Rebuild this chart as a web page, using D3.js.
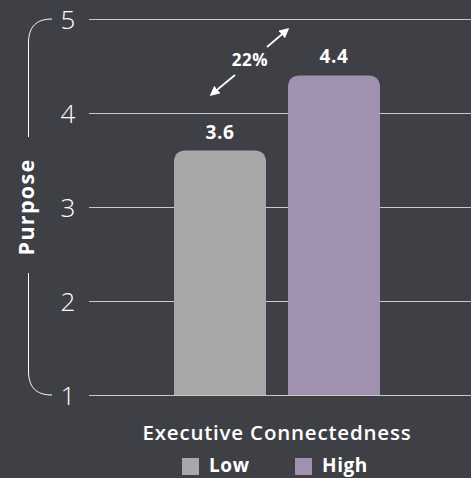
<!DOCTYPE html>
<html>
<head>
<meta charset="utf-8">
<script src="https://cdn.jsdelivr.net/npm/d3@7"></script>
<style>
  html, body { margin: 0; padding: 0; background: #3f4045; }
  svg { display: block; }
  text { font-family: "Open Sans", "Noto Sans", sans-serif; fill: #ffffff; }
</style>
</head>
<body>
<svg id="chart" width="471" height="478"></svg>
<script>
// Purpose score by level of executive connectedness
const categories = ["Low", "High"];
const values = [3.6, 4.4];
const valueLabels = ["3.6", "4.4"];
const colors = ["#a8a8a8", "#a091ae"];
const yTicks = [1, 2, 3, 4, 5];
const changeLabel = "22%";
const yTitle = "Purpose";
const xTitle = "Executive Connectedness";

const svg = d3.select("#chart");
const W = 471, H = 478;
svg.append("rect").attr("width", W).attr("height", H).attr("fill", "#3f4045");

const y = d3.scaleLinear().domain([1, 5]).range([395, 19]);
const x = d3.scaleBand().domain(categories).range([174, 380])
  .paddingInner(22 / 114).paddingOuter(0);

// Gridlines + tick labels
const grid = svg.append("g");
grid.selectAll("line").data(yTicks).join("line")
  .attr("x1", 89).attr("x2", W)
  .attr("y1", d => Math.round(y(d)) + 0.5).attr("y2", d => Math.round(y(d)) + 0.5)
  .attr("stroke", "#c9c9cb").attr("stroke-width", 1);
grid.selectAll("text").data(yTicks).join("text")
  .attr("x", 68).attr("y", d => y(d) + 10)
  .attr("text-anchor", "middle")
  .style("font-size", "26px").style("font-weight", 300)
  .text(d => d);

// Bars with rounded top corners
const r = 12;
function barPath(x0, w, yTop, yBot) {
  return `M${x0},${yBot}V${yTop + r}Q${x0},${yTop} ${x0 + r},${yTop}` +
         `H${x0 + w - r}Q${x0 + w},${yTop} ${x0 + w},${yTop + r}V${yBot}Z`;
}
svg.append("g").selectAll("path").data(categories).join("path")
  .attr("d", (c, i) => barPath(x(c), x.bandwidth(), y(values[i]), y(1)))
  .attr("fill", (c, i) => colors[i]);

// Baseline drawn over the bars
svg.append("line")
  .attr("x1", 89).attr("x2", W)
  .attr("y1", Math.round(y(1)) + 0.5).attr("y2", Math.round(y(1)) + 0.5)
  .attr("stroke", "#c9c9cb").attr("stroke-width", 1);

// Value labels
svg.append("g").selectAll("text").data(categories).join("text")
  .attr("x", c => x(c) + x.bandwidth() / 2)
  .attr("y", (c, i) => y(values[i]) - 12)
  .attr("text-anchor", "middle")
  .style("font-size", "19px").style("font-weight", 700)
  .style("letter-spacing", "0.6px")
  .text((c, i) => valueLabels[i]);

// Change annotation with arrows
const defs = svg.append("defs");
defs.append("marker").attr("id", "arrowhead")
  .attr("viewBox", "0 0 10 10").attr("refX", 7).attr("refY", 5)
  .attr("markerWidth", 5.8).attr("markerHeight", 5.8).attr("orient", "auto")
  .append("path").attr("d", "M0,0L10,5L0,10Z").attr("fill", "#ffffff");
const ann = svg.append("g");
ann.append("line").attr("x1", 267).attr("y1", 47).attr("x2", 287).attr("y2", 30)
  .attr("stroke", "#fff").attr("stroke-width", 1.7).attr("marker-end", "url(#arrowhead)");
ann.append("line").attr("x1", 235).attr("y1", 75).attr("x2", 212).attr("y2", 94)
  .attr("stroke", "#fff").attr("stroke-width", 1.7).attr("marker-end", "url(#arrowhead)");
ann.append("text").attr("x", 250).attr("y", 66).attr("text-anchor", "middle")
  .style("font-size", "17px").style("font-weight", 700)
  .style("letter-spacing", "0.5px").text(changeLabel);

// Y-axis bracket and title
const bx = 28.5;
svg.append("path")
  .attr("d", `M52,${y(5)}C36,${y(5)} ${bx},${y(5) + 8} ${bx},${y(5) + 24}V137`)
  .attr("fill", "none").attr("stroke", "#ffffff").attr("stroke-width", 1);
svg.append("path")
  .attr("d", `M${bx},273V${y(1) - 24}C${bx},${y(1) - 8} 36,${y(1)} 52,${y(1)}`)
  .attr("fill", "none").attr("stroke", "#ffffff").attr("stroke-width", 1);
svg.append("text")
  .attr("transform", `translate(${bx + 5.5},207) rotate(-90)`)
  .attr("text-anchor", "middle")
  .style("font-size", "21.5px").style("font-weight", 700)
  .style("letter-spacing", "1.3px")
  .text(yTitle);

// X-axis title
svg.append("text").attr("x", 277).attr("y", 440).attr("text-anchor", "middle")
  .style("font-size", "20.5px").style("font-weight", 600)
  .style("letter-spacing", "0.8px").text(xTitle);

// Legend
const legendX = [182, 295];
const lg = svg.append("g");
lg.selectAll("rect").data(categories).join("rect")
  .attr("x", (c, i) => legendX[i]).attr("y", 458)
  .attr("width", 17).attr("height", 17)
  .attr("fill", (c, i) => colors[i]);
lg.selectAll("text").data(categories).join("text")
  .attr("x", (c, i) => legendX[i] + 27).attr("y", 472)
  .style("font-size", "19px").style("font-weight", 700)
  .style("letter-spacing", "0.6px")
  .text(c => c);
</script>
</body>
</html>
